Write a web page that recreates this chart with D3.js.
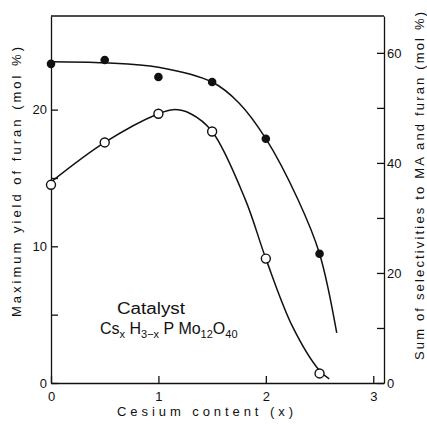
<!DOCTYPE html>
<html>
<head>
<meta charset="utf-8">
<script src="https://cdn.jsdelivr.net/npm/d3@7"></script>
<style>
  body { margin: 0; background: #fff; }
  svg text { font-family: "Liberation Sans", Arial, sans-serif; fill: #111; }
  .axis path, .axis line { stroke: #111; stroke-width: 1.3; }
  .axis text { font-size: 13px; }
</style>
</head>
<body>
<div id="chart"></div>
<script>
var width = 427, height = 425;

// measured points
var cesium = [0, 0.5, 1, 1.5, 2, 2.5];
var yieldFuran = [14.5, 17.6, 19.7, 18.4, 9.1, 0.7];      // open circles, left axis
var selectivity = [58.0, 58.7, 55.6, 54.7, 44.4, 23.5];    // filled circles, right axis

// hand-drawn fitted curves
var yieldCurveX = [0, 0.5, 1, 1.14, 1.3, 1.5, 1.81, 2, 2.25, 2.5, 2.59];
var yieldCurveY = [14.7, 17.6, 19.7, 20.0, 19.7, 18.4, 13.4, 9.1, 4.1, 0.9, 0.3];
var selCurveX = [0, 0.5, 1, 1.5, 1.75, 2, 2.3, 2.5, 2.66];
var selCurveY = [58.4, 58.2, 57.4, 54.7, 50.9, 44.4, 33.3, 23.5, 9.1];

var xTicks = [0, 1, 2, 3];
var leftTicks = [0, 5, 10, 15, 20];
var leftLabels = [0, 10, 20];
var rightTicks = [0, 10, 20, 30, 40, 50, 60];
var rightLabels = [0, 20, 40, 60];

var plot = {left: 51, right: 384, top: 16, bottom: 383};

var svg = d3.select("#chart").append("svg")
  .attr("width", width)
  .attr("height", height);

var x = d3.scaleLinear().domain([0, 3.1]).range([plot.left, plot.right]);
var yL = d3.scaleLinear().domain([0, 26.85]).range([plot.bottom, plot.top]);
var yR = d3.scaleLinear().domain([0, 66.7]).range([plot.bottom, plot.top]);

// axes, ticks pointing inward
svg.append("g")
  .attr("class", "axis")
  .attr("transform", "translate(" + plot.left + ",0)")
  .call(d3.axisLeft(yL).tickValues(leftTicks).tickSizeInner(-7).tickSizeOuter(0).tickPadding(4)
    .tickFormat(function(d){ return leftLabels.indexOf(d) >= 0 ? d : ""; }));

svg.append("g")
  .attr("class", "axis")
  .attr("transform", "translate(" + plot.right + ",0)")
  .call(d3.axisRight(yR).tickValues(rightTicks).tickSizeInner(-7).tickSizeOuter(0).tickPadding(3)
    .tickFormat(function(d){ return rightLabels.indexOf(d) >= 0 ? d : ""; }));

svg.append("g")
  .attr("class", "axis")
  .attr("transform", "translate(0," + plot.bottom + ")")
  .call(d3.axisBottom(x).tickValues(xTicks).tickSizeInner(-7).tickSizeOuter(0).tickPadding(9)
    .tickFormat(d3.format("d")));

// top frame line
svg.append("line")
  .attr("x1", plot.left).attr("x2", plot.right)
  .attr("y1", plot.top).attr("y2", plot.top)
  .attr("stroke", "#111").attr("stroke-width", 1.3);

// curves
var yieldLine = d3.line()
  .x(function(d){ return x(d[0]); })
  .y(function(d){ return yL(d[1]); })
  .curve(d3.curveCatmullRom.alpha(0.5));
var selLine = d3.line()
  .x(function(d){ return x(d[0]); })
  .y(function(d){ return yR(d[1]); })
  .curve(d3.curveCatmullRom.alpha(0.5));

svg.append("path")
  .datum(d3.zip(yieldCurveX, yieldCurveY))
  .attr("d", yieldLine)
  .attr("fill", "none").attr("stroke", "#111").attr("stroke-width", 1.5);

svg.append("path")
  .datum(d3.zip(selCurveX, selCurveY))
  .attr("d", selLine)
  .attr("fill", "none").attr("stroke", "#111").attr("stroke-width", 1.5);

// points
svg.selectAll(".open")
  .data(d3.zip(cesium, yieldFuran))
  .enter().append("circle")
  .attr("class", "open")
  .attr("cx", function(d){ return x(d[0]); })
  .attr("cy", function(d){ return yL(d[1]); })
  .attr("r", 4.5)
  .attr("fill", "#fff").attr("stroke", "#111").attr("stroke-width", 1.4);

svg.selectAll(".filled")
  .data(d3.zip(cesium, selectivity))
  .enter().append("circle")
  .attr("class", "filled")
  .attr("cx", function(d){ return x(d[0]); })
  .attr("cy", function(d){ return yR(d[1]); })
  .attr("r", 4.3)
  .attr("fill", "#111");

// axis titles
svg.append("text")
  .text("Cesium content   (x)")
  .attr("x", 117).attr("y", 416)
  .attr("textLength", 176).attr("lengthAdjust", "spacing")
  .style("font-size", "13px");

svg.append("text")
  .text("Maximum yield of furan  (mol %)")
  .attr("transform", "translate(21,317) rotate(-90)")
  .attr("textLength", 270).attr("lengthAdjust", "spacing")
  .style("font-size", "13px");

svg.append("text")
  .text("Sum of selectivities to MA and furan (mol %)")
  .attr("transform", "translate(424,360) rotate(-90)")
  .attr("textLength", 348).attr("lengthAdjust", "spacing")
  .style("font-size", "13px");

// catalyst annotation
svg.append("text")
  .text("Catalyst")
  .attr("x", 117).attr("y", 314)
  .attr("textLength", 68).attr("lengthAdjust", "spacingAndGlyphs")
  .style("font-size", "16px");

var formula = svg.append("text")
  .attr("x", 100).attr("y", 334)
  .style("font-size", "16px");
formula.append("tspan").text("Cs");
formula.append("tspan").text("x").attr("dy", 4).style("font-size", "11px");
formula.append("tspan").text(" H").attr("dy", -4);
formula.append("tspan").text("3\u2212x").attr("dy", 4).style("font-size", "11px");
formula.append("tspan").text(" P Mo").attr("dy", -4);
formula.append("tspan").text("12").attr("dy", 4).style("font-size", "11px");
formula.append("tspan").text("O").attr("dy", -4);
formula.append("tspan").text("40").attr("dy", 4).style("font-size", "11px");
</script>
</body>
</html>
